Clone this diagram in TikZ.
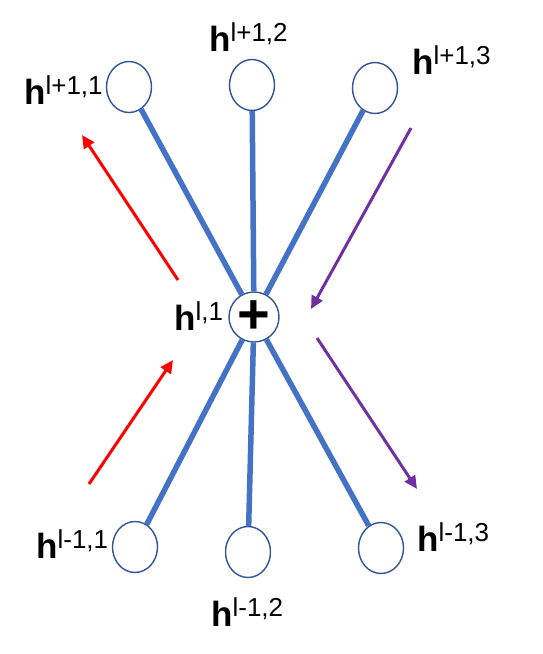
\documentclass[tikz,border=0pt]{standalone}
\usepackage{fontspec}
\setmainfont{Liberation Sans}
\usepackage{tikz}
\usepackage{xcolor}
\usetikzlibrary{arrows.meta,positioning,shapes.geometric}
\definecolor{edgeblue}{HTML}{4472C4}
\definecolor{ringblue}{HTML}{2F5597}
\definecolor{fwdred}{HTML}{FF0000}
\definecolor{bwdpurple}{HTML}{7030A0}
\newcommand{\hsup}[1]{\textbf{h}\raisebox{10pt}{\fontsize{26}{26}\selectfont #1}}

\begin{document}
\begin{tikzpicture}[x=1pt,y=-1pt,
  unit/.style={ellipse,draw=ringblue,line width=1.4pt,minimum width=45pt,minimum height=51pt,inner sep=0pt},
  hub/.style={circle,draw=ringblue,line width=1.4pt,minimum size=50pt,inner sep=0pt,
              font=\fontsize{56}{56}\selectfont\bfseries},
  hlabel/.style={anchor=base west,inner sep=0pt,font=\fontsize{35}{40}\selectfont},
  link/.style={draw=edgeblue,line width=5.5pt},
  flow/.style={line width=3pt,-{Triangle[length=13pt,width=12pt]}}]
\useasboundingbox (0,0) rectangle (543,654);
% units
\node[unit] (up1) at (129,87) {};
\node[unit] (up2) at (252,85) {};
\node[unit] (up3) at (375,88) {};
\node[hub]  (ctr) at (254,317) {+};
\node[unit] (dn1) at (135,547) {};
\node[unit] (dn2) at (248,552) {};
\node[unit] (dn3) at (381,548) {};
% labels
\node[hlabel] (lup1) at (24,104)  {\hsup{l+1,1}};
\node[hlabel] (lup2) at (209,51)  {\hsup{l+1,2}};
\node[hlabel] (lup3) at (412,74)  {\hsup{l+1,3}};
\node[hlabel] (lctr) at (174,330) {\hsup{l,1}};
\node[hlabel] (ldn1) at (36,558)  {\hsup{l-1,1}};
\node[hlabel] (ldn2) at (211,626) {\hsup{l-1,2}};
\node[hlabel] (ldn3) at (417,551) {\hsup{l-1,3}};
% links
\foreach \u in {up1,up2,up3,dn1,dn2,dn3}
  \draw[link] (\u) -- (ctr);
% forward / backward passes
\coordinate (fa0) at (89,484);  \coordinate (fa1) at (173,360);
\coordinate (fb0) at (178,280); \coordinate (fb1) at (82,135);
\coordinate (ba0) at (411,128); \coordinate (ba1) at (311,309);
\coordinate (bb0) at (317,338); \coordinate (bb1) at (417,489);
\draw[flow,fwdred] (fa0) -- (fa1);
\draw[flow,fwdred] (fb0) -- (fb1);
\draw[flow,bwdpurple] (ba0) -- (ba1);
\draw[flow,bwdpurple] (bb0) -- (bb1);
\end{tikzpicture}
\end{document}
